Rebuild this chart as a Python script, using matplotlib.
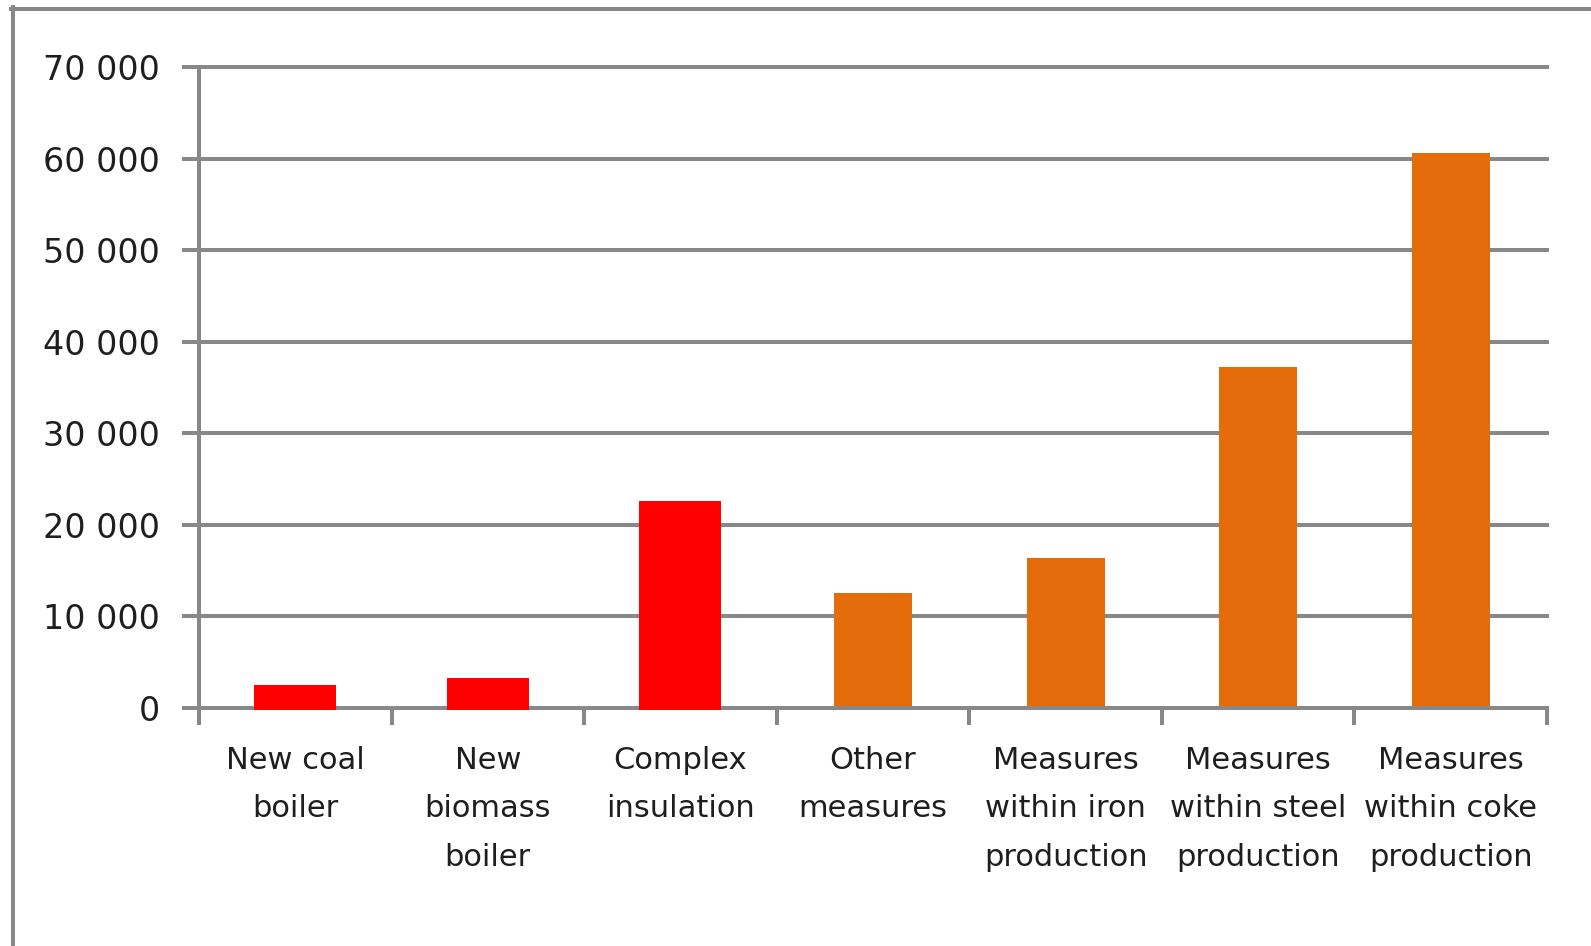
import matplotlib
matplotlib.use("Agg")
import matplotlib.pyplot as plt
from matplotlib.lines import Line2D
import numpy as np

categories = ["New coal\nboiler", "New\nbiomass\nboiler", "Complex\ninsulation",
              "Other\nmeasures", "Measures\nwithin iron\nproduction",
              "Measures\nwithin steel\nproduction", "Measures\nwithin coke\nproduction"]
values = [2300, 3100, 22400, 12600, 16400, 37200, 60600]
groups = ["red", "red", "red", "orange", "orange", "orange", "orange"]
yticks = [0, 10000, 20000, 30000, 40000, 50000, 60000, 70000]
ytick_labels = ["0", "10 000", "20 000", "30 000", "40 000", "50 000", "60 000", "70 000"]

W, H = 1591, 946
fig = plt.figure(figsize=(W / 100, H / 100), dpi=100)
fig.patch.set_facecolor("white")

GRAY = "#888888"
PX = 72 / 100  # points per pixel
TXT = "#1e1e1e"

left, right, top, bottom = 199, 1547, 67, 708
ax = fig.add_axes([left / W, 1 - bottom / H, (right - left) / W, (bottom - top) / H])

x = np.arange(len(categories))
for xi, v, g in zip(x, values, groups):
    if g == "red":
        ax.bar(xi, v, width=0.405, color="#FF0000", edgecolor="#FF0000",
               linewidth=4 * PX, zorder=4, clip_on=False)
    else:
        ax.bar(xi, v, width=0.405, color="#E46C0A", linewidth=0, zorder=2)

ax.set_xlim(-0.5, len(categories) - 0.5)
ax.set_ylim(0, 70000)
ax.set_yticks(yticks)
ax.set_yticklabels(ytick_labels, fontsize=24, color=TXT, family="DejaVu Sans")
ax.yaxis.grid(True, color=GRAY, linewidth=4 * PX, zorder=1)
for gl in ax.get_ygridlines():
    gl.set_clip_on(False)
ax.set_axisbelow(True)

ax.set_xticks(x)
ax.set_xticklabels(categories, fontsize=22, color=TXT, family="DejaVu Sans",
                   linespacing=1.85)
ax.set_xticks(np.arange(-0.5, len(categories)), minor=True)
ax.tick_params(axis="x", which="major", length=0, pad=17 * PX + 15)
ax.tick_params(axis="x", which="minor", length=17 * PX, width=4 * PX, color=GRAY,
               direction="out")
ax.tick_params(axis="y", length=17 * PX, width=4 * PX, color=GRAY, pad=16)

for s in ["top", "right"]:
    ax.spines[s].set_visible(False)
for s in ["left", "bottom"]:
    ax.spines[s].set_color(GRAY)
    ax.spines[s].set_linewidth(4 * PX)
ax.spines["bottom"].set_zorder(3)

# outer chart frame (partially cut off)
fx, fy = 12.5 / W, 1 - 9 / H
fig.add_artist(Line2D([fx, fx], [0, fy + 2 / H], transform=fig.transFigure,
                      color=GRAY, linewidth=4 * PX))
fig.add_artist(Line2D([fx - 2 / W, 1], [fy, fy], transform=fig.transFigure,
                      color=GRAY, linewidth=4 * PX))

fig.savefig("out.png", dpi=100, facecolor="white")
